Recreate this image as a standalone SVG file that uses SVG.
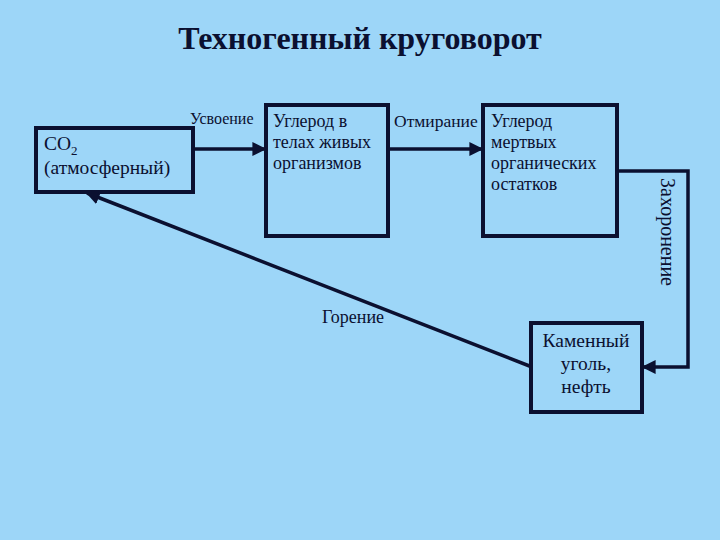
<svg xmlns="http://www.w3.org/2000/svg" width="720" height="540" viewBox="0 0 720 540">
<style>
text{font-family:"Liberation Serif","Times New Roman",serif;fill:#0b1030}
.box{fill:#9dd6f8;stroke:#0b1030;stroke-width:4}
.ln{fill:none;stroke:#0b1030;stroke-width:3.5}
.t18{font-size:18px}
.t20{font-size:19.5px}
</style>
<defs>
<marker id="ah" viewBox="0 0 10 10" refX="9" refY="5" markerWidth="4" markerHeight="4" orient="auto" markerUnits="strokeWidth">
<path d="M0,0 L10,5 L0,10 z" fill="#0b1030"/>
</marker>
</defs>
<rect width="720" height="540" fill="#9dd6f8"/>
<text x="360" y="49" text-anchor="middle" font-size="32" font-weight="bold">Техногенный круговорот</text>

<g id="connectors">
<line class="ln" x1="193" y1="149" x2="265" y2="149" marker-end="url(#ah)"/>
<line class="ln" x1="388" y1="149" x2="482" y2="149" marker-end="url(#ah)"/>
<polyline class="ln" points="617,171 688,171 688,367 643,367" marker-end="url(#ah)"/>
<line class="ln" x1="532" y1="367" x2="87" y2="193" marker-end="url(#ah)"/>
<text x="190" y="124" font-size="16">Усвоение</text>
<text x="394" y="127" font-size="17.5">Отмирание</text>
<text x="322" y="323" font-size="18">Горение</text>
<text transform="translate(661,232) rotate(90)" text-anchor="middle" font-size="20">Захоронение</text>
</g>

<g id="co2">
<rect class="box" x="36" y="128" width="157" height="64"/>
<text x="44" y="150" class="t20">CO<tspan font-size="13" dy="5">2</tspan></text>
<text x="44" y="174" class="t20">(атмосферный)</text>
</g>

<g id="living">
<rect class="box" x="266" y="105" width="122" height="131"/>
<text x="273" y="127" class="t18">Углерод в</text>
<text x="273" y="148" class="t18">телах живых</text>
<text x="273" y="169" class="t18">организмов</text>
</g>

<g id="dead">
<rect class="box" x="483" y="105" width="134" height="131"/>
<text x="491" y="127" class="t18">Углерод</text>
<text x="491" y="148" class="t18">мертвых</text>
<text x="491" y="169" class="t18">органических</text>
<text x="491" y="190" class="t18">остатков</text>
</g>

<g id="coal">
<rect class="box" x="531" y="323" width="111" height="89"/>
<text x="586" y="347" text-anchor="middle" font-size="19.5">Каменный</text>
<text x="586" y="370" text-anchor="middle" font-size="19.5">уголь,</text>
<text x="586" y="393" text-anchor="middle" font-size="19.5">нефть</text>
</g>
</svg>
